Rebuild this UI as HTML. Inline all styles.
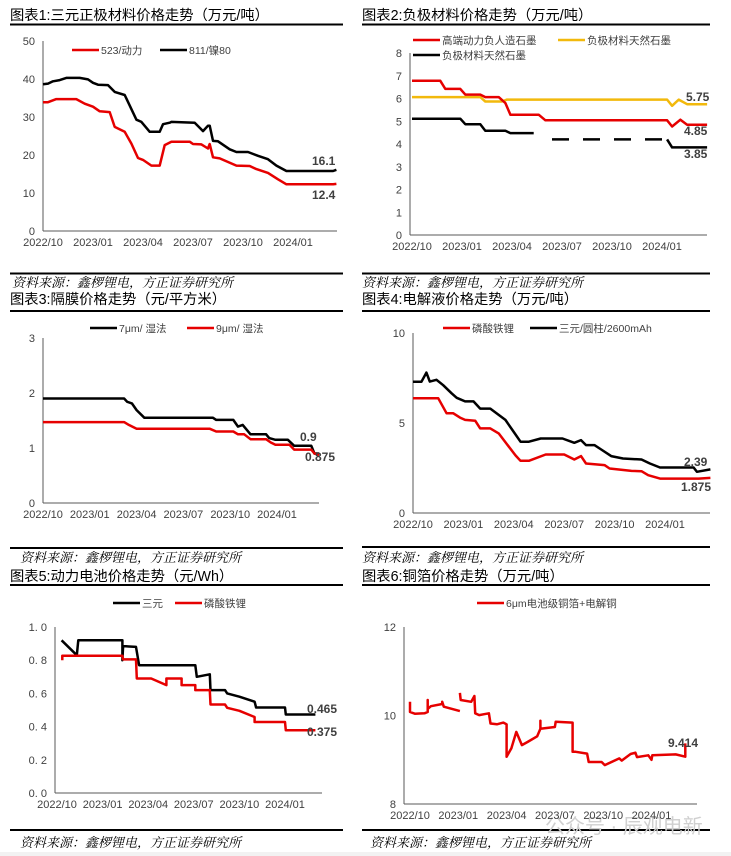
<!DOCTYPE html>
<html><head><meta charset="utf-8">
<style>
html,body{margin:0;padding:0;background:#fff;}
svg{display:block;font-family:"Liberation Sans","Noto Sans CJK SC",sans-serif;}
.t{font-size:14.3px;fill:#000;}
.src{font-size:13px;font-style:italic;fill:#000;font-family:"Noto Serif CJK SC","Noto Sans CJK SC",serif;}
.tk{font-size:11px;fill:#404040;}
.lg{font-size:10.5px;fill:#404040;}
.an{font-size:12px;font-weight:bold;fill:#404040;}
</style></head>
<body>
<svg id="root" width="731" height="856" viewBox="0 0 731 856" xmlns="http://www.w3.org/2000/svg">
<rect width="731" height="856" fill="#fff"/>
<text class="t" x="10" y="20">图表1:三元正极材料价格走势（万元/吨）</text>
<line x1="10" y1="24.5" x2="343" y2="24.5" stroke="#000" stroke-width="2"/>
<text class="t" x="362" y="20">图表2:负极材料价格走势（万元/吨）</text>
<line x1="362" y1="24.5" x2="710" y2="24.5" stroke="#000" stroke-width="2"/>
<line x1="10" y1="273.5" x2="343" y2="273.5" stroke="#000" stroke-width="2"/>
<text class="src" x="12" y="287">资料来源：鑫椤锂电，方正证券研究所</text>
<line x1="362" y1="273.5" x2="710" y2="273.5" stroke="#000" stroke-width="2"/>
<text class="src" x="362" y="287">资料来源：鑫椤锂电，方正证券研究所</text>

<text class="t" x="10" y="304">图表3:隔膜价格走势（元/平方米）</text>
<line x1="10" y1="311" x2="343" y2="311" stroke="#000" stroke-width="2"/>
<text class="t" x="362" y="304">图表4:电解液价格走势（万元/吨）</text>
<line x1="362" y1="311" x2="710" y2="311" stroke="#000" stroke-width="2"/>
<line x1="10" y1="548" x2="343" y2="548" stroke="#000" stroke-width="2"/>
<text class="src" x="20" y="562">资料来源：鑫椤锂电，方正证券研究所</text>
<line x1="362" y1="547" x2="710" y2="547" stroke="#000" stroke-width="2"/>
<text class="src" x="362" y="562">资料来源：鑫椤锂电，方正证券研究所</text>

<text class="t" x="10" y="581">图表5:动力电池价格走势（元/Wh）</text>
<line x1="10" y1="585" x2="343" y2="585" stroke="#000" stroke-width="2"/>
<text class="t" x="362" y="581">图表6:铜箔价格走势（万元/吨）</text>
<line x1="362" y1="585" x2="710" y2="585" stroke="#000" stroke-width="2"/>
<line x1="10" y1="830" x2="343" y2="830" stroke="#000" stroke-width="2"/>
<text class="src" x="20" y="847">资料来源：鑫椤锂电，方正证券研究所</text>
<line x1="362" y1="830" x2="710" y2="830" stroke="#000" stroke-width="2"/>
<text class="src" x="370" y="847">资料来源：鑫椤锂电，方正证券研究所</text>
<rect x="0" y="852" width="731" height="4" fill="#f2f2f2"/>
<text x="545" y="833" font-size="20" fill="#d0d0d0">公众号 · 辰观电新</text>
</svg>
<script>
var xLabels = ["2022/10","2023/01","2023/04","2023/07","2023/10","2024/01"];
var c1Ncm523 = [[0,33.9],[0.3,33.9],[0.8,34.7],[2,34.7],[2.5,33.5],[3,32.7],[3.4,31.5],[4,31.3],[4.3,27.4],[4.9,26.1],[5.3,23],[5.7,19.2],[6,18.7],[6.5,17.2],[7,17.2],[7.3,22.6],[7.7,23.5],[8.8,23.5],[9,22.9],[9.5,22.8],[9.9,21.7],[10,22.9],[10.2,19.4],[10.6,19.1],[11.6,17.2],[12.4,17.1],[12.8,16.3],[13.5,15.3],[14.1,13.6],[14.6,12.3],[17.4,12.3],[17.6,12.4]];
var c1Ncm811 = [[0,38.6],[0.3,38.8],[0.6,39.4],[1,39.7],[1.4,40.3],[2.2,40.3],[2.7,39.9],[3,39],[3.3,38.5],[3.9,38.4],[4.3,36.6],[4.9,35.8],[5.6,29.3],[5.9,28.7],[6.4,26.1],[7,26.1],[7.2,28.1],[7.6,28.5],[7.7,28.7],[9.1,28.5],[9.6,26.3],[9.9,27.7],[10,27.7],[10.2,23.7],[10.5,23.6],[11.2,21.5],[11.6,20.8],[12.3,20.8],[12.9,19.8],[13.5,18.9],[14,17.2],[14.6,15.8],[17.4,15.8],[17.6,16.1]];
var c1Ticks = [0,10,20,30,40,50];
var c2Artificial = [[0,6.78],[1.7,6.78],[2,6.42],[2.9,6.42],[3.2,6.17],[4.1,6.17],[4.4,6.06],[5.2,6.06],[5.6,5.8],[5.9,5.29],[7.6,5.29],[8,5.04],[15.3,5.04],[15.6,4.77],[16.1,5.07],[16.5,4.85],[17.7,4.85]];
var c2NaturalY = [[0,6.06],[4.1,6.06],[4.4,5.87],[5.4,5.87],[5.7,5.95],[15.3,5.95],[15.6,5.68],[16,5.95],[16.5,5.75],[17.7,5.75]];
var c2NaturalK1 = [[0,5.11],[2.9,5.11],[3.2,4.87],[4.1,4.87],[4.4,4.58],[5.6,4.58],[5.9,4.48],[7.3,4.48]];
var c2NaturalK2 = [[8.4,4.2],[15.3,4.2]];
var c2NaturalK3 = [[15.3,4.2],[15.6,3.85],[17.7,3.85]];
var c2Ticks = [0,1,2,3,4,5,6,7,8];
var c3Wet7 = [[0,1.9],[5.2,1.9],[5.4,1.84],[5.7,1.81],[6,1.69],[6.5,1.55],[10.9,1.55],[11.1,1.51],[12.2,1.51],[12.5,1.39],[12.8,1.42],[13.3,1.25],[14.3,1.25],[14.5,1.18],[14.9,1.15],[15.7,1.15],[16.1,1.04],[17.2,1.04],[17.4,0.9],[17.7,0.9]];
var c3Wet9 = [[0,1.47],[5.2,1.47],[5.5,1.42],[6,1.35],[10.7,1.35],[11.1,1.3],[12.2,1.3],[12.5,1.25],[12.9,1.25],[13.3,1.16],[14.3,1.16],[14.6,1.1],[14.9,1.06],[15.8,1.06],[16.1,0.97],[17.2,0.97],[17.4,0.9],[17.7,0.875]];
var c3Ticks = [0,1,2,3];
var c4Lfp = [[0,6.38],[1.5,6.38],[2,5.54],[2.4,5.54],[2.8,5.3],[3.1,5.17],[3.7,5.13],[4,4.7],[4.6,4.7],[5.1,4.42],[6.1,3.2],[6.4,2.9],[6.9,2.9],[7.9,3.25],[9,3.25],[9.6,2.97],[10,3.16],[10.3,2.75],[11.4,2.66],[11.7,2.47],[13,2.34],[13.6,2.32],[14,2.1],[14.7,1.91],[17,1.91],[17.7,1.95]];
var c4Ncm = [[0,7.29],[0.5,7.29],[0.8,7.8],[1,7.3],[1.4,7.4],[1.8,7.1],[2.3,6.65],[2.6,6.4],[3.1,6.2],[3.6,6.2],[4,5.8],[4.6,5.8],[5.5,5.17],[6,4.5],[6.4,3.96],[6.9,3.96],[7.6,4.14],[8.9,4.14],[9.6,3.9],[10,4.05],[10.3,3.77],[10.8,3.77],[11.2,3.53],[11.8,3.16],[12.5,3.03],[13.6,2.97],[14.1,2.75],[14.7,2.53],[16.7,2.53],[16.9,2.29],[17.7,2.42]];
var c4Ticks = [0,5,10];
var c5Ncm = [[0.3,0.92],[1.3,0.83],[1.4,0.92],[4.3,0.92],[4.3,0.8],[4.35,0.885],[5.2,0.88],[5.4,0.77],[9.1,0.77],[9.2,0.70],[10.05,0.715],[10.1,0.62],[11.05,0.62],[11.2,0.6],[12,0.58],[13,0.55],[13.1,0.515],[15,0.515],[15.05,0.473],[17,0.473]];
var c5Lfp = [[0.35,0.8],[0.35,0.827],[4.3,0.827],[4.35,0.805],[5.2,0.805],[5.25,0.69],[6.2,0.69],[7.2,0.65],[7.2,0.69],[8.2,0.69],[8.2,0.65],[9.1,0.65],[9.1,0.62],[10.05,0.62],[10.1,0.533],[11.05,0.533],[11.2,0.513],[12,0.495],[13,0.458],[13,0.428],[15,0.428],[15.05,0.378],[17,0.378]];
var c5Ticks = [0,0.2,0.4,0.6,0.8,1.0];
var c6CuFoil = [[0,10.31],[0,10.08],[0.3,10.04],[0.9,10.05],[1.1,10.08],[1.1,10.35],[1.1,10.15],[1.3,10.21],[2,10.26],[2,10.31],[2.1,10.2],[3.1,10.1],null,[3.1,10.51],[3.15,10.35],[3.8,10.31],[4.0,10.44],[4.05,10.05],[4.3,10.01],[4.6,10.03],[4.9,10.05],[5,9.82],[5.4,9.8],[5.8,9.84],[6,9.8],[6,9.07],[6.3,9.26],[6.6,9.63],[6.95,9.33],[7.3,9.4],[7.9,9.53],[8.1,9.7],[8.1,9.88],[8.1,9.7],[9,9.74],[9.05,9.86],[10.1,9.84],[10.1,9.18],[10.3,9.18],[11,9.14],[11.1,8.95],[11.9,8.95],[12.1,8.88],[13,9.03],[13.15,8.98],[13.7,9.13],[14,9.16],[14.1,9.06],[14.8,9.1],[15,9.0],[15.05,9.1],[16.5,9.12],[17.1,9.07],[17.1,9.37]];
var c6Ticks = [8,10,12];

var NS = "http://www.w3.org/2000/svg";
var root = document.getElementById('root');
function mk(tag, attrs, parent){var e=document.createElementNS(NS,tag);for(var k in attrs)e.setAttribute(k,attrs[k]);(parent||root).appendChild(e);return e;}

function chart(cfg){
  var g = mk('g',{});
  
  
  function sx(m){return cfg.x0 + m*cfg.ppm;}
  function sy(v){return cfg.yb - (v-cfg.vmin)/(cfg.vmax-cfg.vmin)*(cfg.yb-cfg.yt);}
  var ya = mk('line',{x1:cfg.ax,y1:cfg.yt,x2:cfg.ax,y2:cfg.yb,stroke:'#595959','stroke-width':1},g);
  
  
  var xa = mk('line',{x1:cfg.ax,y1:cfg.yb,x2:cfg.xe,y2:cfg.yb,stroke:'#595959','stroke-width':1},g);
  
  
  cfg.ticks.forEach(function(v){
    var t = mk('text',{x:cfg.ax-8,y:sy(v)+4,'text-anchor':'end','class':'tk'},g);
    t.textContent = cfg.fmt ? cfg.fmt(v) : String(v);
    
    
  });
  xLabels.forEach(function(l,i){
    var t = mk('text',{x:sx(i*3),y:cfg.yb+15,'text-anchor':'middle','class':'tk'},g);
    t.textContent = l;
    
    
  });
  cfg.series.forEach(function(s){
    var d='', pen=false;
    s.data.forEach(function(p){
      if(p===null){pen=false;return;}
      d += (pen?'L':'M') + sx(p[0]).toFixed(1)+','+sy(p[1]).toFixed(1);
      pen=true;
    });
    var a = {d:d,fill:'none',stroke:s.color,'stroke-width':s.w||2.5,'stroke-linejoin':'round'};
    if(s.dash) a['stroke-dasharray']=s.dash;
    var p = mk('path',a,g);
    
    
  });
  cfg.legend.forEach(function(l){
    var ln = mk('line',{x1:l.x,y1:l.y,x2:l.x+27,y2:l.y,stroke:l.color,'stroke-width':2.5},g);
    
    
    var t = mk('text',{x:l.x+29,y:l.y+4,'class':'lg'},g);
    t.textContent = l.text;
    
    
  });
  cfg.notes.forEach(function(n){
    var t = mk('text',{x:n.x,y:n.y,'class':'an'},g);
    t.textContent = n.text;
    
    
  });
}
var RED='#e60000', BLK='#000', YEL='#f2b90c';
chart({name:'chart1-cathode',x0:43,ppm:16.67,yb:231,yt:41,vmin:0,vmax:50,ax:43,xe:337,ticks:c1Ticks,
  series:[{name:'line-811',data:c1Ncm811,color:BLK},{name:'line-523',data:c1Ncm523,color:RED}],
  legend:[{x:72,y:50,color:RED,text:'523/动力'},{x:160,y:50,color:BLK,text:'811/镍80'}],
  notes:[{x:312,y:165,text:'16.1'},{x:312,y:199,text:'12.4'}]});
chart({name:'chart2-anode',x0:412,ppm:16.67,yb:235,yt:53,vmin:0,vmax:8,ax:410,xe:707,ticks:c2Ticks,
  series:[{name:'line-natural-graphite-yellow',data:c2NaturalY,color:YEL},{name:'line-artificial-graphite',data:c2Artificial,color:RED},
    {name:'line-natural-graphite-black',data:c2NaturalK1,color:BLK},{name:'line-natural-graphite-black-dashed',data:c2NaturalK2,color:BLK,dash:'17,14'},{name:'line-natural-graphite-black-end',data:c2NaturalK3,color:BLK}],
  legend:[{x:413,y:40,color:RED,text:'高端动力负人造石墨'},{x:558,y:40,color:YEL,text:'负极材料天然石墨'},{x:413,y:55,color:BLK,text:'负极材料天然石墨'}],
  notes:[{x:686,y:101,text:'5.75'},{x:684,y:135,text:'4.85'},{x:684,y:158,text:'3.85'}]});
chart({name:'chart3-separator',x0:43,ppm:15.6,yb:503,yt:338,vmin:0,vmax:3,ax:43,xe:319,ticks:c3Ticks,
  series:[{name:'line-7um-wet',data:c3Wet7,color:BLK},{name:'line-9um-wet',data:c3Wet9,color:RED}],
  legend:[{x:90,y:328,color:BLK,text:'7μm/ 湿法'},{x:187,y:328,color:RED,text:'9μm/ 湿法'}],
  notes:[{x:300,y:441,text:'0.9'},{x:305,y:461,text:'0.875'}]});
chart({name:'chart4-electrolyte',x0:413,ppm:16.8,yb:513,yt:333,vmin:0,vmax:10,ax:413,xe:710,ticks:c4Ticks,
  series:[{name:'line-ncm-cylinder',data:c4Ncm,color:BLK},{name:'line-lfp',data:c4Lfp,color:RED}],
  legend:[{x:443,y:328,color:RED,text:'磷酸铁锂'},{x:530,y:328,color:BLK,text:'三元/圆柱/2600mAh'}],
  notes:[{x:684,y:466,text:'2.39'},{x:681,y:491,text:'1.875'}]});
chart({name:'chart5-battery',x0:57,ppm:15.2,yb:793,yt:627,vmin:0,vmax:1,ax:55,xe:322,ticks:c5Ticks,
  fmt:function(v){return v.toFixed(1).replace('.','. ');},
  series:[{name:'line-ncm-battery',data:c5Ncm,color:BLK},{name:'line-lfp-battery',data:c5Lfp,color:RED}],
  legend:[{x:113,y:603,color:BLK,text:'三元'},{x:175,y:603,color:RED,text:'磷酸铁锂'}],
  notes:[{x:307,y:713,text:'0.465'},{x:307,y:736,text:'0.375'}]});
chart({name:'chart6-copper-foil',x0:410,ppm:16.1,yb:804,yt:627,vmin:8,vmax:12,ax:404,xe:697,ticks:c6Ticks,
  series:[{name:'line-6um-copper-foil',data:c6CuFoil,color:RED}],
  legend:[{x:477,y:603,color:RED,text:'6μm电池级铜箔+电解铜'}],
  notes:[{x:668,y:747,text:'9.414'}]});
</script>
</body></html>
